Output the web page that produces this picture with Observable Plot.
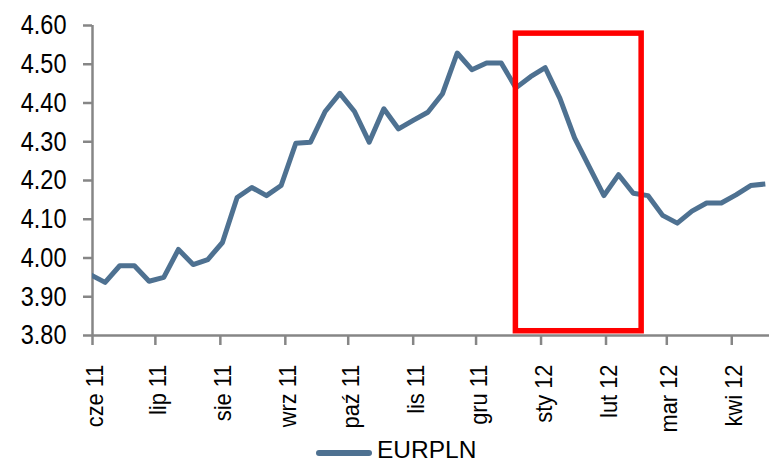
<!DOCTYPE html>
<html>
<head>
<meta charset="utf-8">
<script src="https://cdn.jsdelivr.net/npm/d3@7"></script>
<script src="https://cdn.jsdelivr.net/npm/@observablehq/plot@0.6"></script>
<style>
  html, body { margin: 0; padding: 0; background: #fff; }
  #wrap { width: 769px; height: 467px; position: relative; overflow: hidden;
    font-family: "Liberation Sans", Arial, sans-serif; }
  #legend { position: absolute; left: 0; top: 437px; width: 769px; height: 30px; }
  #legend .sw { position: absolute; left: 316px; top: 12.5px; width: 56px; height: 6px; border-radius: 3px; background: #4e7191; }
  #legend .tx { position: absolute; left: 377px; top: 1px; font-size: 24.5px; line-height: 24.5px; color: #000; white-space: nowrap; }
</style>
</head>
<body>
<div id="wrap">
  <div id="chart"></div>
  <div id="legend"><span class="sw"></span><span class="tx" id="legendText"></span></div>
</div>
<script>
// ---- data ----
const seriesName = "EURPLN";
const dates = [
  "2011-05-31","2011-06-07","2011-06-14","2011-06-21","2011-06-28",
  "2011-07-05","2011-07-12","2011-07-19","2011-07-26",
  "2011-08-02","2011-08-09","2011-08-16","2011-08-23","2011-08-30",
  "2011-09-06","2011-09-13","2011-09-20","2011-09-27",
  "2011-10-04","2011-10-11","2011-10-18","2011-10-25",
  "2011-11-01","2011-11-08","2011-11-15","2011-11-22","2011-11-29",
  "2011-12-06","2011-12-13","2011-12-20","2011-12-27",
  "2012-01-03","2012-01-10","2012-01-17","2012-01-24","2012-01-31",
  "2012-02-07","2012-02-14","2012-02-21","2012-02-28",
  "2012-03-06","2012-03-13","2012-03-20","2012-03-27",
  "2012-04-03","2012-04-10","2012-04-17"
];
const values = [
  3.957, 3.937, 3.980, 3.980, 3.940,
  3.950, 4.022, 3.983, 3.996,
  4.040, 4.156, 4.182, 4.161, 4.187,
  4.296, 4.299, 4.378, 4.425,
  4.378, 4.299, 4.385, 4.333,
  4.355, 4.376, 4.424, 4.529, 4.486,
  4.503, 4.503, 4.439, 4.468,
  4.491, 4.412, 4.310, 4.235, 4.161,
  4.215, 4.167, 4.161, 4.110,
  4.090, 4.121, 4.142, 4.142,
  4.163, 4.187, 4.191
];
const xDomain = ["2011-06-01", "2012-04-19"];
const yDomain = [3.80, 4.60];
const yTicks = [3.80, 3.90, 4.00, 4.10, 4.20, 4.30, 4.40, 4.50, 4.60];
const monthTicks = ["2011-06-01","2011-07-01","2011-08-01","2011-09-01","2011-10-01","2011-11-01",
  "2011-12-01","2012-01-01","2012-02-01","2012-03-01","2012-04-01"];
const monthLabels = ["cze 11","lip 11","sie 11","wrz 11","paź 11","lis 11",
  "gru 11","sty 12","lut 12","mar 12","kwi 12"];
// highlighted period (red box)
const boxStart = ["2011-12-20"];
const boxEnd = ["2012-02-18"];
const boxLow = [3.811];
const boxHigh = [4.579];

// ---- build ----
const parse = d3.utcParse("%Y-%m-%d");
const data = dates.map((d, i) => ({date: parse(d), value: values[i]}));
const tickDates = monthTicks.map(parse);
const labelOf = new Map(tickDates.map((d, i) => [+d, monthLabels[i]]));
const box = boxStart.map((d, i) => ({x1: parse(d), x2: parse(boxEnd[i]), y1: boxLow[i], y2: boxHigh[i]}));
const xd = xDomain.map(parse);

const axisColor = "#868686";
const lineColor = "#4e7191";

const chart = Plot.plot({
  width: 769,
  height: 437,
  marginLeft: 92,
  marginRight: 0,
  marginTop: 25,
  marginBottom: 102,
  style: {
    fontFamily: '"Liberation Sans", Arial, sans-serif',
    fontSize: "28px",
    color: "#000",
    background: "#fff",
    overflow: "visible"
  },
  x: {type: "utc", domain: xd},
  y: {domain: yDomain},
  marks: [
    Plot.axisY({ticks: yTicks, tickFormat: d => d.toFixed(2), tickSize: 9, tickPadding: 17,
      stroke: axisColor, strokeWidth: 2.5, fill: "#000", label: null, fontSize: 28}),
    // tick marks only
    Plot.axisX({ticks: tickDates, tickFormat: () => "", tickSize: 10,
      stroke: axisColor, strokeWidth: 2.5, label: null}),
    // labels only, nudged slightly right like the original
    Plot.axisX({ticks: tickDates, tickFormat: d => labelOf.get(+d), tickRotate: -90, tickSize: 0,
      tickPadding: 29, fill: "#000", label: null, fontSize: 24, dx: 3}),
    Plot.ruleY([yDomain[0]], {stroke: axisColor, strokeWidth: 2.5}),
    Plot.ruleX([xd[0]], {stroke: axisColor, strokeWidth: 2.5}),
    Plot.line(data, {x: "date", y: "value", stroke: lineColor, strokeWidth: 5,
      strokeLinejoin: "round", strokeLinecap: "butt", clip: true}),
    Plot.rect(box, {x1: "x1", x2: "x2", y1: "y1", y2: "y2", fill: "none", stroke: "#ff0000", strokeWidth: 5.5})
  ]
});
document.getElementById("chart").appendChild(chart);
document.getElementById("legendText").textContent = seriesName;

// narrow the axis lettering like the original (condensed face)
function condense(selector, k) {
  chart.querySelectorAll(selector).forEach(t => {
    const L = t.getComputedTextLength();
    if (!(L > 0)) return;
    t.setAttribute("textLength", (L * k).toFixed(2));
    t.setAttribute("lengthAdjust", "spacingAndGlyphs");
  });
}
condense('g[aria-label="y-axis tick label"] text', 0.84);
condense('g[aria-label="x-axis tick label"] text', 0.91);
</script>
</body>
</html>
